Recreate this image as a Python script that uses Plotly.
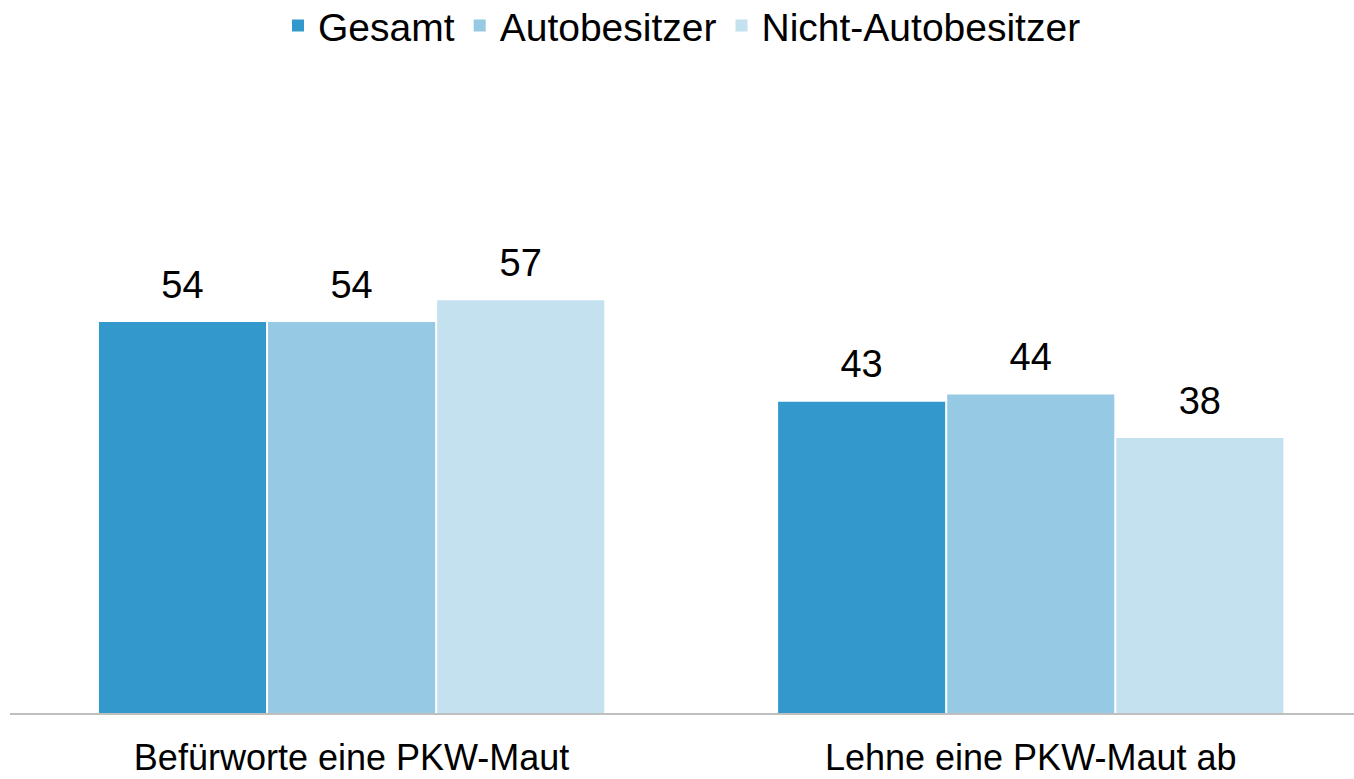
import plotly.graph_objects as go

categories = ["Befürworte eine PKW-Maut", "Lehne eine PKW-Maut ab"]
series_names = ["Gesamt", "Autobesitzer", "Nicht-Autobesitzer"]
gesamt = [54, 43]
autobesitzer = [54, 44]
nicht_autobesitzer = [57, 38]
colors = ["#3399cc", "#95c9e4", "#c4e1ef"]

series_values = [gesamt, autobesitzer, nicht_autobesitzer]

FONT = "Liberation Sans, Arial, sans-serif"
fig = go.Figure()
for name, vals, col in zip(series_names, series_values, colors):
    fig.add_trace(go.Bar(
        name=name, x=categories, y=vals, marker=dict(color=col, line=dict(width=0)),
        offsetgroup=name, hoverinfo="skip",
    ))
for name, vals in zip(series_names, series_values):
    fig.add_trace(go.Scatter(
        x=categories, y=vals, mode="markers+text", text=[str(v) for v in vals],
        textposition="top center", offsetgroup=name, showlegend=False,
        marker=dict(size=22, opacity=0), hoverinfo="skip",
        textfont=dict(family=FONT, size=38, color="#000000"), cliponaxis=False,
    ))

fig.update_layout(
    width=1354, height=779,
    margin=dict(l=10, r=0, t=100, b=66),
    paper_bgcolor="white", plot_bgcolor="white",
    barmode="group", bargap=0.253, bargroupgap=0.012,
    scattermode="group", scattergap=0.253,
    font=dict(family=FONT, size=36, color="#000000"),
    legend=dict(orientation="h", x=0.5, xanchor="center", yref="container", y=0.967, yanchor="middle",
                font=dict(size=39), itemwidth=30, traceorder="normal"),
    xaxis=dict(range=[-0.503, 1.476], showline=True, linecolor="#bfbfbf", linewidth=2,
               ticks="", showgrid=False, zeroline=False, ticklabelstandoff=12,
               tickfont=dict(size=36), automargin=False),
    yaxis=dict(range=[0, 84.67], visible=False, showgrid=False, zeroline=False),
    showlegend=True,
)
fig.write_html("out.html", config={"displayModeBar": False},
               post_script="document.body.style.margin='0';document.body.style.overflow='hidden';")
